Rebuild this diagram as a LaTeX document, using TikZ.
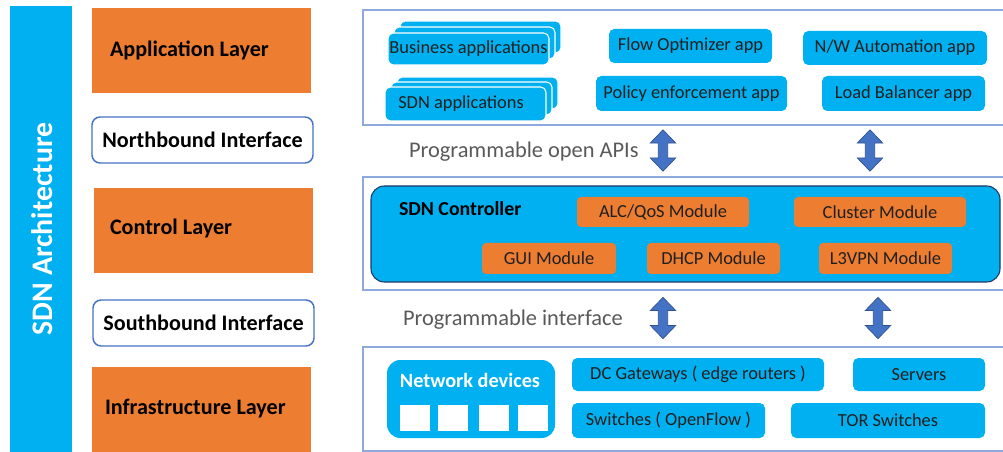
\documentclass[tikz,border=0pt]{standalone}
\usepackage{fontspec}
\setmainfont{Carlito}
\usetikzlibrary{fit,shapes.arrows}
\definecolor{sdncyan}{HTML}{00B0F0}
\definecolor{sdnorange}{HTML}{ED7D31}
\definecolor{sdnblue}{HTML}{4472C4}
\definecolor{sdnarrowline}{HTML}{2F528F}
\definecolor{sdnframe}{HTML}{8EA9DB}
\definecolor{sdndark}{HTML}{1F3864}
\definecolor{sdngray}{HTML}{595959}
\begin{document}
\begin{tikzpicture}[x=0.75pt,y=-0.75pt,
  every node/.style={inner sep=0pt,outer sep=0pt},
  layerbox/.style={inner sep=0pt,fill=sdnorange},
  layertext/.style={font=\fontsize{16.6}{18}\selectfont\bfseries,anchor=west,text=black},
  ifacebox/.style={inner sep=0pt,fill=white,draw=sdnblue,line width=1.1pt,rounded corners=6pt},
  ifacetext/.style={font=\fontsize{16.6}{18}\selectfont\bfseries,text=black},
  frame/.style={inner sep=0pt,draw=sdnframe,line width=1.1pt},
  appbox/.style={inner sep=0pt,fill=sdncyan,rounded corners=4pt},
  stackbox/.style={inner sep=0pt,fill=sdncyan,draw=white,line width=0.8pt,rounded corners=4pt},
  boxtext/.style={font=\fontsize{13.8}{15}\selectfont,text=black!88},
  modbox/.style={inner sep=0pt,fill=sdnorange,rounded corners=3pt},
  whitesq/.style={inner sep=0pt,fill=white},
  linklabel/.style={font=\fontsize{16.8}{18}\selectfont,text=sdngray,anchor=west},
  updown/.style={double arrow,shape border rotate=90,fill=sdnblue,draw=sdnarrowline,
    line width=0.5pt,inner sep=3.3pt,minimum width=18.75pt,minimum height=31pt,
    double arrow head extend=6pt,double arrow tip angle=88}
]
\useasboundingbox (0,0) rectangle (1003,452);

% vertical title bar
\node[fill=sdncyan,fit={(10,6)(72,452)}] (title) {};
\node[rotate=90,text=white,font=\fontsize{22.4}{24}\selectfont\bfseries] at (42,229) {SDN Architecture};

% layer column
\node[layerbox,fit={(92,8)(311,93)}] (applayer) {};
\node[layertext] at (110,50) {Application Layer};
\node[ifacebox,fit={(92,117)(313,163)}] (north) {};
\node[ifacetext] at (north.center) {Northbound Interface};
\node[layerbox,fit={(94,188)(313,273)}] (ctrllayer) {};
\node[layertext] at (110,228) {Control Layer};
\node[ifacebox,fit={(93,300)(314,346)}] (south) {};
\node[ifacetext] at (south.center) {Southbound Interface};
\node[layerbox,fit={(92,367)(311,452)}] (infralayer) {};
\node[layertext] at (105,409) {Infrastructure Layer};

% application plane (frame runs past the right edge)
\node[frame,fit={(363,10)(1012,125)}] (appframe) {};
\node[stackbox,fit={(400,21)(561,53)}] (bizc) {};
\node[stackbox,fit={(394,27)(555,59)}] (bizb) {};
\node[stackbox,fit={(388,33)(549,65)}] (biz) {};
\node[boxtext] at (biz.center) {Business applications};
\node[stackbox,fit={(397,77)(558,109)}] (sdnappc) {};
\node[stackbox,fit={(391,82)(552,115)}] (sdnappb) {};
\node[stackbox,fit={(385,87)(546,121)}] (sdnapp) {};
\node[boxtext] at (461,104) {SDN applications};
\node[appbox,fit={(609,29)(772,63)}] (flow) {};
\node[boxtext] at (flow.center) {Flow Optimizer app};
\node[appbox,fit={(596,76)(787,111)}] (policy) {};
\node[boxtext] at (policy.center) {Policy enforcement app};
\node[appbox,fit={(803,31)(987,65)}] (nwauto) {};
\node[boxtext] at (nwauto.center) {N/W Automation app};
\node[appbox,fit={(822,76)(985,111)}] (lb) {};
\node[boxtext] at (lb.center) {Load Balancer app};

% control plane
\node[frame,fit={(363,177)(1012,290)}] (ctrlframe) {};
\node[fill=sdncyan,draw=sdndark,line width=0.8pt,rounded corners=10pt,fit={(371,186)(1000,282)}] (ctrl) {};
\node[font=\fontsize{14.9}{16}\selectfont\bfseries,anchor=west] at (399,209) {SDN Controller};
\node[modbox,fit={(577,197)(749,227)}] (alc) {};
\node[boxtext] at (alc.center) {ALC/QoS Module};
\node[modbox,fit={(794,197)(966,227)}] (cluster) {};
\node[boxtext] at (cluster.center) {Cluster Module};
\node[modbox,fit={(482,243)(616,274)}] (gui) {};
\node[boxtext] at (gui.center) {GUI Module};
\node[modbox,fit={(647,243)(780,274)}] (dhcp) {};
\node[boxtext] at (dhcp.center) {DHCP Module};
\node[modbox,fit={(819,243)(952,274)}] (l3vpn) {};
\node[boxtext] at (l3vpn.center) {L3VPN Module};

% infrastructure plane
\node[frame,fit={(363,347)(1012,451)}] (infraframe) {};
\node[fill=sdncyan,rounded corners=10pt,fit={(387,360)(555,438)}] (netdev) {};
\node[font=\fontsize{15.2}{16}\selectfont\bfseries,text=white] at (470,380) {Network devices};
\node[whitesq,fit={(400,405)(430,431)}] (sq1) {};
\node[whitesq,fit={(438,405)(468,431)}] (sq2) {};
\node[whitesq,fit={(479,405)(509,431)}] (sq3) {};
\node[whitesq,fit={(518,405)(548,431)}] (sq4) {};
\node[appbox,fit={(572,358)(824,391)}] (dcgw) {};
\node[boxtext] at (dcgw.center) {DC Gateways ( edge routers )};
\node[appbox,fit={(853,358)(985,391)}] (servers) {};
\node[boxtext] at (servers.center) {Servers};
\node[appbox,fit={(572,403)(765,438)}] (switches) {};
\node[boxtext] at (switches.center) {Switches ( OpenFlow )};
\node[appbox,fit={(791,403)(985,438)}] (tor) {};
\node[boxtext] at (tor.center) {TOR Switches};

% interfaces between planes
\node[linklabel] at (409,152) (apilabel) {Programmable open APIs};
\node[linklabel] at (403,320) (iflabel) {Programmable interface};
\node[updown] (nbarrow1) at (663,150.5) {};
\node[updown] (nbarrow2) at (870,150.5) {};
\node[updown] (sbarrow1) at (663,318) {};
\node[updown] (sbarrow2) at (878,318) {};
\end{tikzpicture}
\end{document}
